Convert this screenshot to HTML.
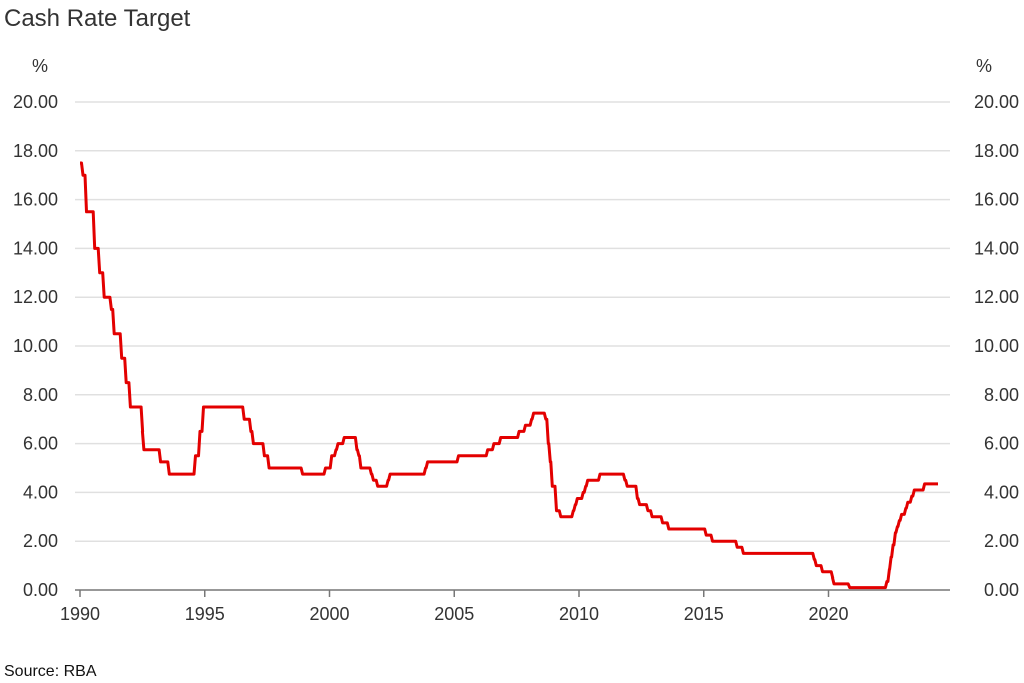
<!DOCTYPE html>
<html><head><meta charset="utf-8"><style>
body{margin:0;background:#fff;}
svg{display:block;font-family:"Liberation Sans",Arial,sans-serif;}
</style></head><body>
<svg id="chart" width="1024" height="683" viewBox="0 0 1024 683">
<text x="4" y="26" font-size="24" fill="#333">Cash Rate Target</text>
<text x="4" y="676" font-size="16" fill="#111">Source: RBA</text>
<text x="40" y="72" font-size="18" fill="#333" text-anchor="middle">%</text>
<text x="984" y="72" font-size="18" fill="#333" text-anchor="middle">%</text>
<g id="grid"></g><g id="axes"></g><g id="series"></g>
</svg>
<script>
const yTicks=[0,2,4,6,8,10,12,14,16,18,20];
const xTicks=[1990,1995,2000,2005,2010,2015,2020];
const stepDates=[1990.0,1990.12,1990.26,1990.59,1990.79,1990.97,1991.26,1991.37,1991.67,1991.85,1992.02,1992.51,1992.56,1993.23,1993.58,1994.63,1994.81,1994.95,1996.58,1996.85,1996.95,1997.39,1997.58,1998.92,1999.84,2000.09,2000.26,2000.34,2000.59,2001.1,2001.18,2001.26,2001.68,2001.76,2001.93,2002.35,2002.43,2003.85,2003.93,2005.17,2006.34,2006.59,2006.86,2007.6,2007.85,2008.1,2008.18,2008.67,2008.77,2008.85,2008.93,2009.1,2009.27,2009.77,2009.85,2009.93,2010.17,2010.27,2010.35,2010.84,2011.84,2011.93,2012.34,2012.43,2012.76,2012.93,2013.35,2013.6,2015.1,2015.35,2016.34,2016.59,2019.43,2019.51,2019.76,2020.17,2020.22,2020.85,2022.34,2022.44,2022.51,2022.59,2022.68,2022.76,2022.84,2022.93,2023.1,2023.18,2023.34,2023.44,2023.85];
const stepRates=[17.5,17.0,15.5,14.0,13.0,12.0,11.5,10.5,9.5,8.5,7.5,6.5,5.75,5.25,4.75,5.5,6.5,7.5,7.0,6.5,6.0,5.5,5.0,4.75,5.0,5.5,5.75,6.0,6.25,5.75,5.5,5.0,4.75,4.5,4.25,4.5,4.75,5.0,5.25,5.5,5.75,6.0,6.25,6.5,6.75,7.0,7.25,7.0,6.0,5.25,4.25,3.25,3.0,3.25,3.5,3.75,4.0,4.25,4.5,4.75,4.5,4.25,3.75,3.5,3.25,3.0,2.75,2.5,2.25,2.0,1.75,1.5,1.25,1.0,0.75,0.5,0.25,0.1,0.35,0.85,1.35,1.85,2.35,2.6,2.85,3.1,3.35,3.6,3.85,4.1,4.35];
const endDate=2024.45;
const NS="http://www.w3.org/2000/svg";
const X=y=>80+(y-1990)*24.95;
const Y=v=>590-v*24.4;
function mk(tag,attrs,parent,txt){const e=document.createElementNS(NS,tag);for(const k in attrs)e.setAttribute(k,attrs[k]);if(txt!==undefined)e.textContent=txt;parent.appendChild(e);return e;}
const grid=document.getElementById('grid'),axes=document.getElementById('axes'),series=document.getElementById('series');
yTicks.forEach(v=>{
 if(v>0){const l=mk('line',{x1:75,x2:950,y1:Y(v),y2:Y(v),stroke:'#e0e0e0','stroke-width':1.5},grid);
 
 }
 const a=mk('text',{x:58,y:Y(v)+6,'font-size':18,fill:'#333','text-anchor':'end'},axes,v.toFixed(2));
 
 
 const b=mk('text',{x:1019,y:Y(v)+6,'font-size':18,fill:'#333','text-anchor':'end'},axes,v.toFixed(2));
 
 
});
const ax=mk('line',{x1:75,x2:950,y1:590,y2:590,stroke:'#777','stroke-width':1.5},axes);


xTicks.forEach(t=>{
 const tk=mk('line',{x1:X(t),x2:X(t),y1:590,y2:597,stroke:'#777','stroke-width':1.5},axes);
 
 
 const tl=mk('text',{x:X(t),y:620,'font-size':18,fill:'#333','text-anchor':'middle'},axes,String(t));
 
 
});
let d='';
for(let i=0;i<stepDates.length;i++){
 const x=X(stepDates[i]),y=Y(stepRates[i]);
 d+=(i===0?'M':'L')+x.toFixed(1)+','+y.toFixed(1);
 const nx=i+1<stepDates.length?X(stepDates[i+1]):X(endDate);
 d+='L'+(nx-1.5).toFixed(1)+','+y.toFixed(1);
}
const p=mk('path',{d:d,fill:'none',stroke:'#e30000','stroke-width':3,'stroke-linejoin':'round'},series);


</script>
</body></html>
